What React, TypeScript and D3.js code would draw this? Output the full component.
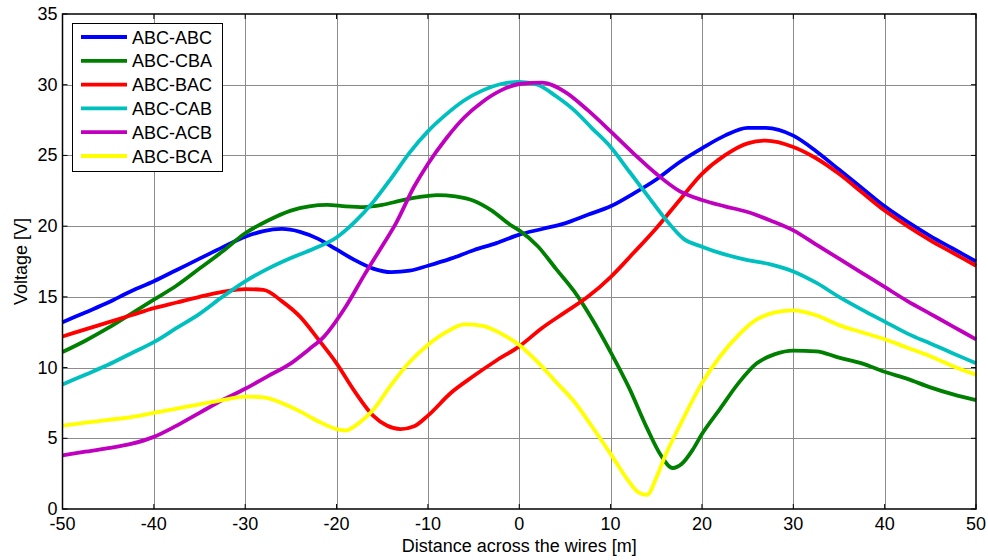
import React, { useEffect, useRef } from 'react';
import * as d3 from 'd3';

// values, [distance (m), voltage (V)]
const abcAbc: [number, number][] = [
  [-50, 13.2], [-47.5, 13.9], [-45, 14.6], [-42.5, 15.4], [-40, 16.1], [-37.5, 16.9], [-35, 17.7],
  [-32.5, 18.5], [-30, 19.25], [-28, 19.65], [-26, 19.8], [-24, 19.6], [-22, 19.1], [-20, 18.35],
  [-18, 17.6], [-16, 17.0], [-14, 16.75], [-12, 16.85], [-10, 17.2], [-7.5, 17.7], [-5, 18.3],
  [-2.5, 18.8], [0, 19.4], [2.5, 19.8], [5, 20.2], [7.5, 20.8], [10, 21.4], [12.5, 22.3], [15, 23.3],
  [17.5, 24.5], [20, 25.5], [22.5, 26.4], [25, 26.95], [27, 26.95], [30, 26.4], [32.5, 25.3],
  [35, 24.0], [37.5, 22.7], [40, 21.4], [42.5, 20.3], [45, 19.3], [47.5, 18.4], [50, 17.5],
];
const abcCba: [number, number][] = [
  [-50, 11.1], [-47.5, 11.9], [-45, 12.8], [-42.5, 13.8], [-40, 14.8], [-37.5, 15.8], [-35, 17.0],
  [-32.5, 18.2], [-30, 19.5], [-27.5, 20.4], [-25, 21.1], [-23, 21.4], [-21, 21.5], [-19, 21.4],
  [-17, 21.35], [-15, 21.5], [-13, 21.8], [-11, 22.05], [-9, 22.2], [-7, 22.1], [-5, 21.8],
  [-3, 21.1], [-1, 20.1], [0, 19.7], [2, 18.6], [4, 17.0], [6, 15.4], [8, 13.4], [10, 11.1],
  [12, 8.6], [14, 5.7], [15.5, 3.8], [16.8, 2.9], [17.8, 3.2], [19, 4.2], [20, 5.3], [22, 7.1],
  [24, 8.9], [26, 10.3], [28, 10.95], [30, 11.2], [32.5, 11.15], [35, 10.7], [37.5, 10.3],
  [40, 9.7], [42.5, 9.2], [45, 8.6], [47.5, 8.1], [50, 7.7],
];
const abcBac: [number, number][] = [
  [-50, 12.2], [-47.5, 12.7], [-45, 13.2], [-42.5, 13.7], [-40, 14.2], [-37.5, 14.6], [-35, 15.0],
  [-32.5, 15.35], [-30, 15.55], [-28, 15.5], [-26, 14.7], [-24, 13.6], [-22, 12.0], [-20, 10.3],
  [-18, 8.3], [-16, 6.6], [-14.5, 5.9], [-13, 5.65], [-11.5, 5.85], [-10, 6.6], [-7.5, 8.2],
  [-5, 9.4], [-2.5, 10.5], [0, 11.5], [2.5, 12.8], [5, 13.9], [7.5, 15.0], [10, 16.4], [12.5, 18.1],
  [15, 19.85], [17.5, 21.8], [20, 23.7], [22.5, 25.0], [25, 25.85], [27, 26.05], [30, 25.6],
  [32.5, 24.8], [35, 23.7], [37.5, 22.4], [40, 21.1], [42.5, 20.0], [45, 19.0], [47.5, 18.1],
  [50, 17.2],
];
const abcCab: [number, number][] = [
  [-50, 8.8], [-47.5, 9.5], [-45, 10.2], [-42.5, 11.0], [-40, 11.8], [-37.5, 12.8], [-35, 13.8],
  [-32.5, 15.0], [-30, 16.1], [-27.5, 17.0], [-25, 17.75], [-22.5, 18.4], [-20, 19.2], [-18, 20.3],
  [-16, 21.7], [-14, 23.4], [-12, 25.2], [-10, 26.7], [-8, 27.9], [-6, 28.9], [-4, 29.6],
  [-2, 30.05], [0, 30.2], [2, 30.0], [4, 29.2], [6, 28.2], [8, 26.9], [10, 25.6], [12, 23.9],
  [14, 22.2], [16, 20.5], [18, 19.1], [20, 18.55], [22.5, 18.0], [25, 17.6], [27.5, 17.3],
  [30, 16.8], [32.5, 16.0], [35, 15.0], [37.5, 14.1], [40, 13.25], [42.5, 12.4], [45, 11.7],
  [47.5, 11.0], [50, 10.3],
];
const abcAcb: [number, number][] = [
  [-50, 3.8], [-47.5, 4.05], [-45, 4.3], [-42.5, 4.6], [-40, 5.1], [-37.5, 5.9], [-35, 6.8],
  [-32.5, 7.7], [-30, 8.5], [-27.5, 9.4], [-25, 10.3], [-23, 11.3], [-21.5, 12.1], [-19, 14.3],
  [-17, 16.5], [-15, 18.6], [-13.5, 20.2], [-11.5, 22.8], [-10, 24.4], [-8, 26.2], [-6, 27.7],
  [-4, 28.8], [-2, 29.6], [0, 30.05], [2.5, 30.15], [5, 29.5], [7.5, 28.2], [10, 26.7],
  [12.5, 25.15], [15, 23.7], [17.5, 22.5], [20, 21.85], [22.5, 21.4], [25, 21.0], [27.5, 20.4],
  [30, 19.7], [32.5, 18.7], [35, 17.7], [37.5, 16.7], [40, 15.7], [42.5, 14.7], [45, 13.8],
  [47.5, 12.9], [50, 12.0],
];
const abcBca: [number, number][] = [
  [-50, 5.9], [-47.5, 6.1], [-45, 6.3], [-42.5, 6.5], [-40, 6.8], [-37.5, 7.1], [-35, 7.4],
  [-32.5, 7.7], [-30, 7.95], [-28, 7.9], [-26, 7.5], [-24, 6.9], [-22, 6.2], [-20, 5.65],
  [-19, 5.55], [-17.5, 6.1], [-16, 7.0], [-14, 8.8], [-12, 10.4], [-10, 11.6], [-8, 12.5],
  [-6, 13.05], [-4, 12.95], [-2, 12.4], [0, 11.6], [2, 10.4], [4, 9.0], [6, 7.6], [8, 5.8],
  [10, 3.9], [12, 1.95], [13, 1.2], [14, 1.0], [15, 2.2], [16, 3.8], [17.5, 5.8], [20, 8.9],
  [22, 10.8], [24, 12.3], [26, 13.4], [28, 13.9], [30, 14.05], [32.5, 13.7], [35, 13.0],
  [37.5, 12.5], [40, 12.0], [42.5, 11.4], [45, 10.8], [47.5, 10.1], [50, 9.5],
];

const seriesNames = ['ABC-ABC', 'ABC-CBA', 'ABC-BAC', 'ABC-CAB', 'ABC-ACB', 'ABC-BCA'];
const seriesData = [abcAbc, abcCba, abcBac, abcCab, abcAcb, abcBca];
const seriesColors = ['#0000ff', '#008000', '#ff0000', '#00bfbf', '#bf00bf', '#ffff00'];
const xTicks = [-50, -40, -30, -20, -10, 0, 10, 20, 30, 40, 50];
const yTicks = [0, 5, 10, 15, 20, 25, 30, 35];

export default function App() {
  const ref = useRef<SVGSVGElement>(null);

  useEffect(() => {
    const width = 988;
    const height = 560;
    const left = 62.5, right = 976, top = 14, bottom = 509;
    const font = 'Liberation Sans, Arial, sans-serif';
    const fs = '18px';

    const svg = d3.select(ref.current);
    svg.selectAll('*').remove();

    const x = d3.scaleLinear().domain([-50, 50]).range([left, right]);
    const y = d3.scaleLinear().domain([0, 35]).range([bottom, top]);

    svg.append('rect').attr('width', width).attr('height', height).attr('fill', '#fff');

    // grid
    const grid = svg.append('g').attr('stroke', '#8c8c8c').attr('stroke-width', 1);
    grid.selectAll('line.gx')
      .data(xTicks.slice(1, -1))
      .enter()
      .append('line')
      .attr('x1', d => Math.round(x(d)) + 0.5)
      .attr('x2', d => Math.round(x(d)) + 0.5)
      .attr('y1', top)
      .attr('y2', bottom);
    grid.selectAll('line.gy')
      .data(yTicks.slice(1, -1))
      .enter()
      .append('line')
      .attr('x1', left)
      .attr('x2', right)
      .attr('y1', d => Math.round(y(d)) + 0.5)
      .attr('y2', d => Math.round(y(d)) + 0.5);

    // lines
    const line = d3.line<[number, number]>()
      .x(d => x(d[0]))
      .y(d => y(d[1]))
      .curve(d3.curveMonotoneX);
    svg.append('g')
      .selectAll('path')
      .data(seriesData)
      .enter()
      .append('path')
      .attr('d', d => line(d))
      .attr('fill', 'none')
      .attr('stroke', (d, i) => seriesColors[i])
      .attr('stroke-width', 3.8)
      .attr('stroke-linejoin', 'round');

    // axes box and inward ticks
    const axis = svg.append('g').attr('stroke', '#000');
    axis.append('rect')
      .attr('x', left).attr('y', top)
      .attr('width', right - left).attr('height', bottom - top)
      .attr('fill', 'none').attr('stroke-width', 1.5);
    const tl = 5;
    xTicks.forEach(t => {
      axis.append('line').attr('x1', x(t)).attr('x2', x(t)).attr('y1', bottom).attr('y2', bottom - tl);
      axis.append('line').attr('x1', x(t)).attr('x2', x(t)).attr('y1', top).attr('y2', top + tl);
    });
    yTicks.forEach(t => {
      axis.append('line').attr('x1', left).attr('x2', left + tl).attr('y1', y(t)).attr('y2', y(t));
      axis.append('line').attr('x1', right).attr('x2', right - tl).attr('y1', y(t)).attr('y2', y(t));
    });

    // tick labels
    svg.append('g')
      .selectAll('text')
      .data(xTicks)
      .enter()
      .append('text')
      .attr('x', d => x(d))
      .attr('y', bottom + 21)
      .attr('text-anchor', 'middle')
      .style('font-family', font)
      .style('font-size', fs)
      .text(d => d);
    svg.append('g')
      .selectAll('text')
      .data(yTicks)
      .enter()
      .append('text')
      .attr('x', left - 5)
      .attr('y', d => y(d) + 6)
      .attr('text-anchor', 'end')
      .style('font-family', font)
      .style('font-size', fs)
      .text(d => d);

    // axis titles
    svg.append('text')
      .attr('x', (left + right) / 2)
      .attr('y', 552)
      .attr('text-anchor', 'middle')
      .style('font-family', font)
      .style('font-size', fs)
      .text('Distance across the wires [m]');
    svg.append('text')
      .attr('transform', 'translate(27,' + (top + bottom) / 2 + ') rotate(-90)')
      .attr('text-anchor', 'middle')
      .style('font-family', font)
      .style('font-size', fs)
      .text('Voltage [V]');

    // legend
    const legend = svg.append('g');
    legend.append('rect')
      .attr('x', 72.5).attr('y', 23.5)
      .attr('width', 150).attr('height', 148)
      .attr('fill', '#fff').attr('stroke', '#000').attr('stroke-width', 1);
    const items = legend.selectAll('g.item')
      .data(seriesNames)
      .enter()
      .append('g')
      .attr('transform', (d, i) => 'translate(0,' + (37 + i * 23.8) + ')');
    items.append('line')
      .attr('x1', 81).attr('x2', 127).attr('y1', 0).attr('y2', 0)
      .attr('stroke', (d, i) => seriesColors[i])
      .attr('stroke-width', 3.8);
    items.append('text')
      .attr('x', 132)
      .attr('y', 6.5)
      .style('font-family', font)
      .style('font-size', fs)
      .text(d => d);
  }, []);

  return (
    <svg ref={ref} width={988} height={560} style={{ position: 'absolute', left: 0, top: 0 }} />
  );
}
